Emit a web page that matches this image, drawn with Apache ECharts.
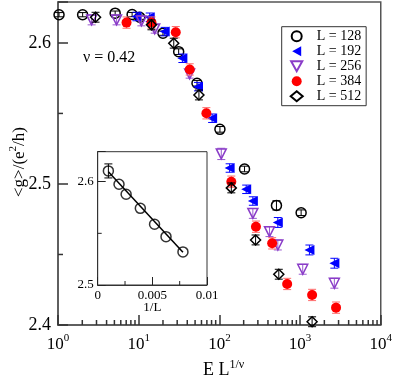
<!DOCTYPE html>
<html><head><meta charset="utf-8">
<script src="https://cdn.jsdelivr.net/npm/echarts@6/dist/echarts.min.js"></script>
<style>html,body{margin:0;padding:0;background:#fff}#c{width:395px;height:377px}</style>
</head><body><div id="c"></div>
<script>
// ---- main panel data ----
const x128=[1.03,2.02,5.11,8.29,10.3,20.0,31.3,52.8,101.6,205,510,1031];
const y128=[2.6200,2.6200,2.6211,2.6201,2.6182,2.6069,2.5938,2.5714,2.5387,2.5106,2.4848,2.4796];
const e128=[0.0015,0.0015,0.0015,0.0015,0.0015,0.0015,0.002,0.002,0.002,0.002,0.0033,0.002];

const x192=[9.4,13.7,21.0,34.8,54.3,81.3,134,215,260,530,1306,2661];
const y192=[2.6187,2.6182,2.6080,2.5891,2.5690,2.5466,2.5113,2.4962,2.4879,2.4727,2.4532,2.4438];
const e192=[0.003,0.003,0.003,0.003,0.003,0.003,0.003,0.003,0.003,0.0035,0.0035,0.0035];

const x256=[2.61,5.32,10.8,15.8,42.8,105.6,260,418,530,1079,2661];
const y256=[2.6163,2.6163,2.6156,2.6099,2.5780,2.5213,2.4791,2.4662,2.4567,2.4395,2.4296];
const e256=[0.0035,0.0035,0.0035,0.003,0.003,0.004,0.0035,0.0035,0.0035,0.0035,0.0035];

const x384=[7.07,14.4,28.8,42.9,69.0,140.6,284,451,692,1410,2793];
const y384=[2.6144,2.6144,2.6076,2.5812,2.5501,2.5016,2.4697,2.4579,2.4291,2.4213,2.4123];
const e384=[0.004,0.004,0.004,0.004,0.004,0.004,0.004,0.004,0.004,0.004,0.004];

const x512=[2.92,14.4,27.2,55.8,140.6,281,545,1410];
const y512=[2.6182,2.6128,2.5998,2.5631,2.4972,2.4603,2.4360,2.4023];
const e512=[0.0035,0.0035,0.0035,0.0035,0.0035,0.0035,0.0035,0.0035];

const seriesNames=['L = 128','L = 192','L = 256','L = 384','L = 512'];
const xMinorTicks=[2,3,4,5,6,7,8,9,20,30,40,50,60,70,80,90,200,300,400,500,600,700,800,900,2000,3000,4000,5000,6000,7000,8000,9000];
const yMinorTicks=[2.45,2.55];

// ---- inset data ----
const invL=[0.000977,0.00195,0.0026,0.0039,0.0052,0.00625,0.0078];
const gInset=[2.6104,2.5975,2.5878,2.5742,2.5588,2.5468,2.5320];
const eInset=[0.0068,0,0,0,0,0,0];
const fitX=[0.000977,0.0078];
const fitY=[2.6095,2.5316];
const insetXMinor=[0.0025,0.0075];
const insetYMinor=[2.55];

const FF='"Liberation Serif", "DejaVu Serif", serif';
const AX='#555';
const TK='#333';

function pairs(xs,ys){return xs.map((x,i)=>[x,ys[i]]);}
function triples(xs,ys,es){return xs.map((x,i)=>[x,ys[i],es[i]]);}
function isTenth(v){return Math.abs(v*10-Math.round(v*10))<1e-6;}
function errRender(color){
  return function(params,api){
    const x=api.value(0),y=api.value(1),e=api.value(2);
    if(!e) return null;
    const p1=api.coord([x,y+e]),p2=api.coord([x,y-e]);const w=4;
    const st={stroke:color,lineWidth:1};
    return {type:'group',children:[
      {type:'line',shape:{x1:p1[0],y1:p1[1],x2:p2[0],y2:p2[1]},style:st},
      {type:'line',shape:{x1:p1[0]-w,y1:p1[1],x2:p1[0]+w,y2:p1[1]},style:st},
      {type:'line',shape:{x1:p2[0]-w,y1:p2[1],x2:p2[0]+w,y2:p2[1]},style:st}
    ]};
  };
}
function errSeries(xs,ys,es,color,xi,yi,z){
  return {type:'custom',xAxisIndex:xi,yAxisIndex:yi,data:triples(xs,ys,es),
    encode:{x:0,y:1},renderItem:errRender(color),z:z||2,silent:true};
}
// minor ticks drawn through the axis scales (dir 'x': tick on bottom axis, 'y': tick on left axis)
function minorTickSeries(values,dir,base,len,color,width,xi,yi,z){
  const data=values.map(v=>dir==='x'?[v,base]:[base,v]);
  return {type:'custom',xAxisIndex:xi,yAxisIndex:yi,data:data,encode:{x:0,y:1},silent:true,z:z,
    renderItem:function(params,api){
      const p=api.coord([api.value(0),api.value(1)]);
      const shape=dir==='x'?{x1:p[0],y1:p[1],x2:p[0],y2:p[1]-len}:{x1:p[0],y1:p[1],x2:p[0]+len,y2:p[1]};
      return {type:'line',shape:shape,style:{stroke:color,lineWidth:width}};
    }};
}

const specs=[
  {name:seriesNames[0],xs:x128,ys:y128,es:e128,symbol:'circle',rot:0,size:10,fill:'rgba(0,0,0,0)',stroke:'#000',bw:1.5,ec:'#000'},
  {name:seriesNames[1],xs:x192,ys:y192,es:e192,symbol:'triangle',rot:90,size:10,fill:'#0000ff',stroke:'#0000ff',bw:0,ec:'#0000ff'},
  {name:seriesNames[2],xs:x256,ys:y256,es:e256,symbol:'triangle',rot:180,size:10,fill:'rgba(0,0,0,0)',stroke:'#8a3cc8',bw:1.5,ec:'#9a5ad0'},
  {name:seriesNames[3],xs:x384,ys:y384,es:e384,symbol:'circle',rot:0,size:10,fill:'#ff0000',stroke:'#ff0000',bw:0,ec:'#ff6a6a'},
  {name:seriesNames[4],xs:x512,ys:y512,es:e512,symbol:'diamond',rot:0,size:10,fill:'rgba(0,0,0,0)',stroke:'#000',bw:1.5,ec:'#000'}
];
const series=[];
series.push(minorTickSeries(xMinorTicks,'x',2.4,5,TK,1.5,0,0,1));
series.push(minorTickSeries(yMinorTicks,'y',1,5,TK,1.5,0,0,1));
specs.forEach((s,i)=>{
  series.push(errSeries(s.xs,s.ys,s.es,s.ec,0,0,2+i*2));
  series.push({type:'scatter',name:s.name,xAxisIndex:0,yAxisIndex:0,data:pairs(s.xs,s.ys),
    symbol:s.symbol,symbolRotate:s.rot,symbolSize:s.size,z:3+i*2,
    itemStyle:{color:s.fill,borderColor:s.stroke,borderWidth:s.bw,opacity:1}});
});
// inset series
series.push(minorTickSeries(insetXMinor,'x',2.5,4,'#222',1,1,1,19));
series.push(minorTickSeries(insetYMinor,'y',0,4,'#222',1,1,1,19));
series.push({type:'line',xAxisIndex:1,yAxisIndex:1,data:pairs(fitX,fitY),symbol:'none',
  lineStyle:{color:'#000',width:1.5},z:20,silent:true});
series.push(errSeries(invL,gInset,eInset,'#000',1,1,21));
series.push({type:'scatter',xAxisIndex:1,yAxisIndex:1,data:pairs(invL,gInset),symbol:'circle',symbolSize:10,z:22,
  itemStyle:{color:'rgba(0,0,0,0)',borderColor:'#000',borderWidth:1.5}});

const chart=echarts.init(document.getElementById('c'),null,{renderer:'canvas'});
chart.setOption({
  animation:false,
  backgroundColor:'#fff',
  textStyle:{fontFamily:FF},
  grid:[
    {left:58,top:2,right:13.5,bottom:52,show:true,borderColor:AX,borderWidth:1.5,backgroundColor:'rgba(0,0,0,0)'},
    {left:97.7,top:151.7,width:109.3,height:133.3,show:true,borderColor:'#333',borderWidth:1,backgroundColor:'#fff',z:15}
  ],
  xAxis:[
    {type:'log',logBase:10,gridIndex:0,min:1,max:10000,position:'bottom',
      axisLine:{lineStyle:{color:AX,width:1.5}},
      axisTick:{show:true,inside:true,length:10,lineStyle:{color:TK,width:1.5}},
      axisLabel:{margin:8,formatter:function(v){return '{b|10}{s|'+Math.round(Math.log10(v))+'}';},
        rich:{b:{fontSize:17,lineHeight:20,fontFamily:FF,color:'#000',verticalAlign:'bottom'},
              s:{fontSize:11,lineHeight:11,fontFamily:FF,color:'#000',verticalAlign:'top'}}},
      splitLine:{show:false}},
    {type:'value',gridIndex:1,min:0,max:0.01,interval:0.005,position:'bottom',z:16,
      axisLine:{lineStyle:{color:'#333',width:1}},
      axisTick:{show:true,inside:true,length:8,lineStyle:{color:'#222',width:1}},
      axisLabel:{margin:4,fontSize:13,color:'#000',fontFamily:FF,
        formatter:function(v){return v===0?'0':String(+v.toFixed(4));}},
      splitLine:{show:false}}
  ],
  yAxis:[
    {type:'value',gridIndex:0,min:2.4,max:2.629,interval:0.1,position:'left',
      axisLine:{show:true,lineStyle:{color:AX,width:1.5}},
      axisTick:{show:true,inside:true,length:10,lineStyle:{color:TK,width:1.5}},
      axisLabel:{margin:7,fontSize:18,color:'#000',fontFamily:FF,
        formatter:function(v){return isTenth(v)?v.toFixed(1):'';}},
      splitLine:{show:false}},
    {type:'value',gridIndex:1,min:2.5,max:2.629,interval:0.1,position:'left',z:16,
      axisLine:{show:true,lineStyle:{color:'#333',width:1}},
      axisTick:{show:true,inside:true,length:8,lineStyle:{color:'#222',width:1}},
      axisLabel:{margin:4,fontSize:13,color:'#000',fontFamily:FF,
        formatter:function(v){return isTenth(v)?v.toFixed(1):'';}},
      splitLine:{show:false}}
  ],
  legend:{data:[
      {name:seriesNames[0]},
      {name:seriesNames[1],icon:'path://M0,5L9,0L9,10Z'},
      {name:seriesNames[2],icon:'path://M0,0L10,0L5,9Z'},
      {name:seriesNames[3]},
      {name:seriesNames[4]}
    ],orient:'vertical',left:281.7,top:26.7,padding:[2,5,2,8],
    itemWidth:12,itemHeight:10,itemGap:0,selectedMode:false,
    backgroundColor:'#fff',borderColor:'#333',borderWidth:1,
    textStyle:{fontSize:14,lineHeight:15,color:'#000',fontFamily:FF,padding:[0,0,0,9]}},
  graphic:[
    {type:'text',x:83,y:58,style:{text:'ν = 0.42',fontSize:16,fontFamily:FF,fill:'#000',verticalAlign:'middle',align:'left'}},
    {type:'text',x:203,y:369,style:{text:'{b|E L}{s|1/ν}',verticalAlign:'middle',align:'left',
      rich:{b:{fontSize:18,lineHeight:20,fontFamily:FF,fill:'#000',verticalAlign:'bottom'},
            s:{fontSize:12,lineHeight:11,fontFamily:FF,fill:'#000',verticalAlign:'top'}}}},
    {type:'text',x:18,y:162,rotation:Math.PI/2,style:{text:'{b|<g>/(e}{s|2}{b|/h)}',align:'center',verticalAlign:'middle',
      rich:{b:{fontSize:17,lineHeight:20,fontFamily:FF,fill:'#000',verticalAlign:'bottom'},
            s:{fontSize:11,lineHeight:11,fontFamily:FF,fill:'#000',verticalAlign:'top'}}}},
    {type:'text',x:152.3,y:308,z:30,style:{text:'1/L',fontSize:13,fontFamily:FF,fill:'#000',align:'center',verticalAlign:'middle'}}
  ],
  series:series
});
</script></body></html>
